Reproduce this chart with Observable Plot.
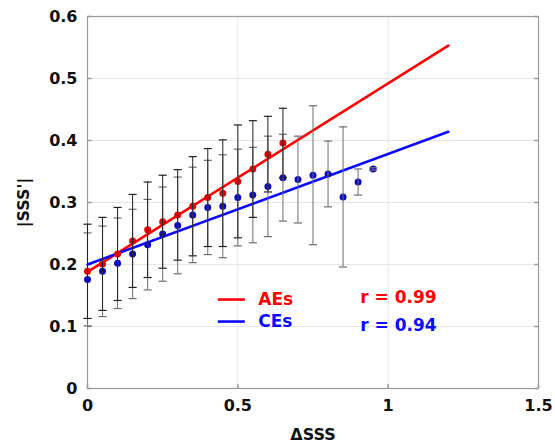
<!DOCTYPE html>
<html><head><meta charset="utf-8">
<script src="https://cdn.jsdelivr.net/npm/d3@7"></script>
<script src="https://cdn.jsdelivr.net/npm/@observablehq/plot@0.6"></script>
<style>body{margin:0;background:#fff}</style>
</head><body><div id="chart"></div>
<script>
const aeX = [0,0.05,0.1,0.15,0.2,0.25,0.3,0.35,0.4,0.45,0.5,0.55,0.6,0.65];
const aeMean = [0.189,0.201,0.217,0.238,0.256,0.269,0.280,0.294,0.308,0.315,0.334,0.354,0.378,0.396];
const aeErr = [0.076,0.075,0.075,0.075,0.077,0.075,0.073,0.080,0.079,0.086,0.091,0.078,0.061,0.056];
const ceX = [0,0.05,0.1,0.15,0.2,0.25,0.3,0.35,0.4,0.45,0.5,0.55,0.6,0.65,0.7,0.75,0.8,0.85,0.9,0.95];
const ceMean = [0.176,0.189,0.202,0.217,0.232,0.249,0.263,0.280,0.292,0.294,0.308,0.312,0.326,0.340,0.337,0.344,0.346,0.309,0.333,0.354];
const ceErr = [0.075,0.073,0.073,0.072,0.073,0.076,0.078,0.077,0.076,0.083,0.078,0.077,0.081,0.070,0.070,0.112,0.053,0.113,0.021,0.002];
const fitX = [0, 1.2];
const aeFit = [0.188, 0.553];
const ceFit = [0.200, 0.414];
const seriesNames = ["AEs", "CEs"];
const rValues = ["r = 0.99", "r = 0.94"];
const xTicks = [0, 0.5, 1, 1.5];
const yTicks = [0, 0.1, 0.2, 0.3, 0.4, 0.5, 0.6];

const ae = aeX.map((x, i) => ({x, y: aeMean[i], lo: aeMean[i] - aeErr[i], hi: aeMean[i] + aeErr[i]}));
const ce = ceX.map((x, i) => ({x, y: ceMean[i], lo: ceMean[i] - ceErr[i], hi: ceMean[i] + ceErr[i]}));
const aeLine = fitX.map((x, i) => ({x, y: aeFit[i]}));
const ceLine = fitX.map((x, i) => ({x, y: ceFit[i]}));
const legend = [
  {name: seriesNames[0], r: rValues[0], color: "#ff0000", row: 0},
  {name: seriesNames[1], r: rValues[1], color: "#0a0aff", row: 1}
];

const cap = {draw(ctx, size) { const w = Math.sqrt(size); ctx.moveTo(-w, 0); ctx.lineTo(w, 0); }};
const tickUp = {draw(ctx, size) { ctx.moveTo(0, 0); ctx.lineTo(0, -Math.sqrt(size)); }};
const tickRight = {draw(ctx, size) { ctx.moveTo(0, 0); ctx.lineTo(Math.sqrt(size), 0); }};
const tickLeft = {draw(ctx, size) { ctx.moveTo(0, 0); ctx.lineTo(-Math.sqrt(size), 0); }};

const chart = Plot.plot({
  width: 555, height: 448,
  marginLeft: 87, marginRight: 17, marginTop: 16, marginBottom: 60,
  style: {fontFamily: "DejaVu Sans", fontWeight: "bold", fontSize: "16px", color: "#111", background: "#fff"},
  x: {domain: [0, 1.5]},
  y: {domain: [0, 0.6]},
  marks: [
    Plot.gridX(xTicks, {stroke: "#e6e6e6", strokeOpacity: 1}),
    Plot.gridY(yTicks, {stroke: "#e6e6e6", strokeOpacity: 1}),
    Plot.frame({stroke: "#9a9a9a", strokeWidth: 1.2}),
    Plot.dot(xTicks, {x: d => d, frameAnchor: "bottom", symbol: tickUp, r: 2.4, stroke: "#9a9a9a"}),
    Plot.dot(yTicks, {y: d => d, frameAnchor: "left", symbol: tickRight, r: 2.4, stroke: "#9a9a9a"}),
    Plot.dot(yTicks, {y: d => d, frameAnchor: "right", symbol: tickLeft, r: 2.4, stroke: "#9a9a9a"}),
    Plot.axisX(xTicks, {tickSize: 0, tickPadding: 11, tickFormat: d => String(d), label: "ΔSSS", labelAnchor: "center", labelArrow: "none", labelOffset: 51, fontSize: 16}),
    Plot.axisY(yTicks, {tickSize: 0, tickPadding: 10, tickFormat: d => String(d), label: "|SSS'|", labelAnchor: "center", labelArrow: "none", labelOffset: 70, fontSize: 16}),
    Plot.lineY(aeLine, {x: "x", y: "y", stroke: "#ff0000", strokeWidth: 2.6}),
    Plot.lineY(ceLine, {x: "x", y: "y", stroke: "#0a0aff", strokeWidth: 2.6}),
    Plot.dot(ae, {x: "x", y: "y", r: 3.5, fill: "#e80000"}),
    Plot.dot(ce, {x: "x", y: "y", r: 3.5, fill: "#0a0ac0"}),
    Plot.ruleX(ce, {x: "x", y1: "lo", y2: "hi", stroke: "#6e6e6e", strokeWidth: 1}),
    Plot.dot(ce, {x: "x", y: "lo", symbol: cap, r: 2.3, stroke: "#6e6e6e", strokeWidth: 1.2}),
    Plot.dot(ce, {x: "x", y: "hi", symbol: cap, r: 2.3, stroke: "#6e6e6e", strokeWidth: 1.2}),
    Plot.ruleX(ae, {x: "x", y1: "lo", y2: "hi", stroke: "#222", strokeWidth: 1}),
    Plot.dot(ae, {x: "x", y: "lo", symbol: cap, r: 2.3, stroke: "#222", strokeWidth: 1.2}),
    Plot.dot(ae, {x: "x", y: "hi", symbol: cap, r: 2.3, stroke: "#222", strokeWidth: 1.2}),
    Plot.ruleY(legend, {x1: 0.435, x2: 0.525, y: d => d.row === 0 ? 0.1435 : 0.108, stroke: "color", strokeWidth: 2.6}),
    Plot.text(legend, {x: 0.568, y: d => d.row === 0 ? 0.1435 : 0.108, text: "name", fill: "color", textAnchor: "start", fontSize: 17}),
    Plot.text(legend, {x: 0.907, y: d => d.row === 0 ? 0.147 : 0.102, text: "r", fill: "color", textAnchor: "start", fontSize: 17})
  ]
});
document.getElementById("chart").append(chart);
</script>
</body></html>
